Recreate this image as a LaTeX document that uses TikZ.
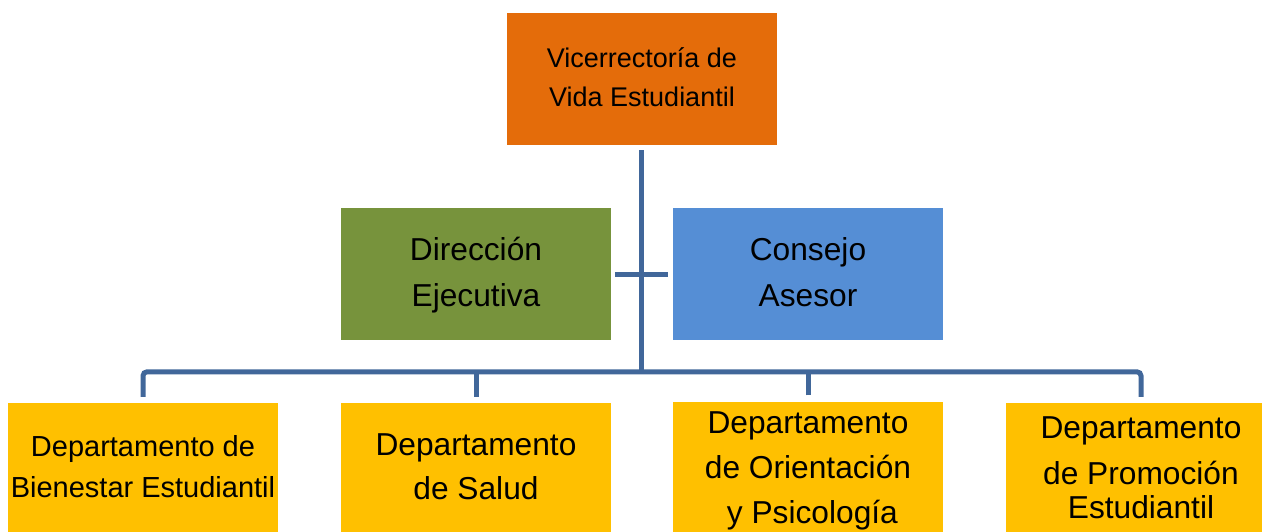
\documentclass[tikz,border=0pt]{standalone}
\usepackage{fontspec}
\setmainfont{Liberation Sans}
\usetikzlibrary{calc}
\definecolor{cOrange}{HTML}{E46C0A}
\definecolor{cGreen}{HTML}{77933C}
\definecolor{cBlue}{HTML}{558ED5}
\definecolor{cYellow}{HTML}{FFC000}
\definecolor{cLine}{HTML}{41679A}
\newcommand{\fs}[2]{\fontsize{#1}{#2}\selectfont}
\begin{document}
\begin{tikzpicture}[x=1pt,y=-1pt,
  box/.style={rectangle, draw=none, inner sep=0pt, minimum width=270pt, minimum height=132pt, align=center, text=black},
  conn/.style={draw=cLine, line width=5pt}]
\useasboundingbox (0,0) rectangle (1262,531);
\clip (0,0) rectangle (1262,531);
% boxes
\node[box, fill=cOrange, font=\fs{27}{38.6}] (top) at (642,79) {\strut Vicerrectoría de\\\strut Vida Estudiantil};
\node[box, fill=cGreen, font=\fs{31.7}{46}] (dir) at (476,274) {\strut Dirección\\\strut Ejecutiva};
\node[box, fill=cBlue, font=\fs{31.7}{46}] (con) at (808,274) {\strut Consejo\\\strut Asesor};
\node[box, fill=cYellow, font=\fs{29}{41}] (d1) at (143,469) {\strut Departamento de\\\strut Bienestar Estudiantil};
\node[box, fill=cYellow, font=\fs{31.7}{44}] (d2) at (476,469) {\strut Departamento\\\strut de Salud};
\node[box, fill=cYellow, font=\fs{31.7}{45}] (d3) at (808,469) {\strut Departamento\\\strut de Orientación\\\strut\ y Psicología};
\node[box, fill=cYellow, font=\fs{31.7}{46}] (d4) at (1141,469) {\strut Departamento\\\strut de Promoción\\[-12pt]\strut Estudiantil};
% connectors
\coordinate (bus) at (641,372);
\draw[conn] ($(top.south)+(-1,5)$) -- (bus);
\draw[conn] ($(dir.east)+(4,0)$) -- ($(con.west)+(-5,0)$);
\draw[conn, rounded corners=4pt] ($(d1.north)+(0,-6)$) |- ($(d4.north)+(0,-31)$) -- ($(d4.north)+(0,-6)$);
\draw[conn] ($(d2.north)+(0,-6)$) -- ++(0,-25);
\draw[conn] ($(d3.north)+(0,-6)$) -- ++(0,-25);
\end{tikzpicture}
\end{document}
